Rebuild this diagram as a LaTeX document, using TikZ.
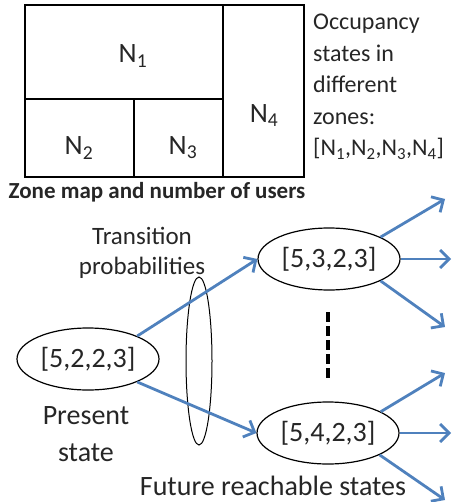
\documentclass[tikz,border=0pt]{standalone}
\usepackage{fontspec}
\setmainfont{Carlito}
\usetikzlibrary{arrows.meta,shapes.geometric}
\definecolor{ArrowClr}{rgb}{0.31,0.506,0.741}
\definecolor{TextClr}{rgb}{0.15,0.15,0.15}

\begin{document}
\begin{tikzpicture}[x=1pt,y=-1pt,
  zone/.style={line width=1.6pt},
  state/.style={draw,ellipse,line width=1.2pt,minimum width=142pt,minimum height=62pt,
    inner sep=0pt,font=\fontsize{28}{34}\selectfont,text=TextClr},
  lbl/.style={inner sep=0pt,align=center,text=TextClr},
  trans/.style={ArrowClr,line width=2.8pt,-{Straight Barb[length=9pt,width=18pt,line width=2.8pt]}}]
\useasboundingbox (0,0) rectangle (459,502);

% zone map
\draw[zone] (25,5) rectangle (304,177);
\draw[zone] (25,99) -- (223,99);
\draw[zone] (223,5) -- (223,177);
\draw[zone] (134,99) -- (134,177);
\node[lbl,font=\fontsize{28}{34}\selectfont] (n1) at (133,56) {N\textsubscript{1}};
\node[lbl,font=\fontsize{28}{34}\selectfont] (n2) at (79,148) {N\textsubscript{2}};
\node[lbl,font=\fontsize{28}{34}\selectfont] (n3) at (183,148) {N\textsubscript{3}};
\node[lbl,font=\fontsize{28}{34}\selectfont] (n4) at (264,116) {N\textsubscript{4}};
\node[lbl,anchor=north west,align=left,font=\fontsize{24}{31.5}\selectfont] (occ) at (313,14)
  {Occupancy\\states in\\different\\zones:\\{}[N\textsubscript{1},N\textsubscript{2},N\textsubscript{3},N\textsubscript{4}]};
\node[lbl,font=\bfseries\fontsize{23}{28}\selectfont] (cap) at (157,192) {Zone map and number of users};

% states
\node[state] (present) at (88,359) {[5,2,2,3]};
\node[state] (up) at (329,259) {[5,3,2,3]};
\node[state] (down) at (328,433) {[5,4,2,3]};
\node[draw,ellipse,line width=1pt,minimum width=26pt,minimum height=168pt,inner sep=0pt] (grp) at (199,361) {};

\node[lbl,font=\fontsize{25}{30}\selectfont] (tp) at (142,253) {Transition\\probabilities};
\node[lbl,font=\fontsize{28}{37}\selectfont] (ps) at (86,434) {Present\\state};
\node[lbl,font=\fontsize{28}{34}\selectfont] (fut) at (273,486) {Future reachable states};

\coordinate (dtop) at (328,312);
\coordinate (dbot) at (328,380);
\draw[line width=4pt,dash pattern=on 10pt off 4pt] (dtop) -- (dbot);

% transitions
\draw[trans] (present.25) -- (up.west);
\draw[trans] (present.-25) -- (down.west);

\coordinate (u1) at (445,199);
\coordinate (u2) at (451,259);
\coordinate (u3) at (445,327);
\coordinate (d1) at (445,373);
\coordinate (d2) at (451,433);
\coordinate (d3) at (445,500);
\draw[trans] (up.23) -- (u1);
\draw[trans] (up.east) -- (u2);
\draw[trans] (up.-23) -- (u3);
\draw[trans] (down.22) -- (d1);
\draw[trans] (down.east) -- (d2);
\draw[trans] (down.-23) -- (d3);
\end{tikzpicture}
\end{document}
